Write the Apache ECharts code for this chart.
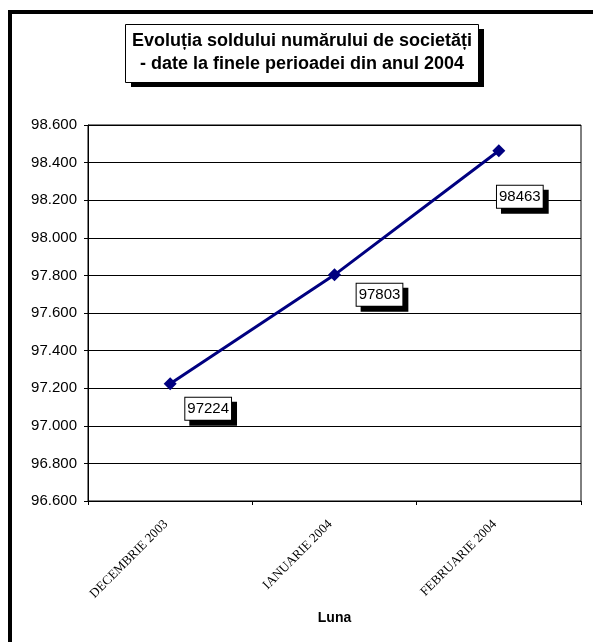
<!DOCTYPE html>
<html>
<head>
<meta charset="utf-8">
<script src="https://cdn.jsdelivr.net/npm/echarts@6/dist/echarts.min.js"></script>
<style>
html,body{margin:0;padding:0;background:#fff;}
#chart{width:593px;height:642px;}
</style>
</head>
<body>
<div id="chart"></div>
<script>
const titleLines = ['Evoluția soldului numărului de societăți', '- date la finele perioadei din anul 2004'];
const categories = ['DECEMBRIE 2003', 'IANUARIE 2004', 'FEBRUARIE 2004'];
const values = [97224, 97803, 98463];
const labelOffsets = [[38, 25], [45, 20], [21, 46]];
const axisName = 'Luna';
const yMin = 96600, yMax = 98600, yStep = 200;

const chart = echarts.init(document.getElementById('chart'), null, {renderer: 'canvas'});

function fmtThousands(v) {
  return String(v).replace(/\B(?=(\d{3})+(?!\d))/g, '.');
}

const option = {
  backgroundColor: '#ffffff',
  animation: false,
  graphic: [
    {
      type: 'rect', z: 0, silent: true,
      shape: {x: 10, y: 12, width: 700, height: 700},
      style: {fill: 'none', stroke: '#000', lineWidth: 4}
    },
    {
      type: 'rect', z: 1, silent: true,
      shape: {x: 131, y: 29, width: 353, height: 58},
      style: {fill: '#000'}
    },
    {
      type: 'rect', z: 2, silent: true,
      shape: {x: 125.5, y: 24.5, width: 353, height: 58},
      style: {fill: '#fff', stroke: '#000', lineWidth: 1}
    },
    {
      type: 'text', z: 3, silent: true,
      x: 302, y: 41,
      style: {text: titleLines[0], fill: '#000', font: 'bold 18px "Liberation Sans", Arial, sans-serif', align: 'center', verticalAlign: 'middle'}
    },
    {
      type: 'text', z: 3, silent: true,
      x: 302, y: 64,
      style: {text: titleLines[1], fill: '#000', font: 'bold 18px "Liberation Sans", Arial, sans-serif', align: 'center', verticalAlign: 'middle'}
    }
  ],
  grid: {
    left: 88, top: 125, right: 12, bottom: 141,
    show: true, borderColor: '#000', borderWidth: 1, backgroundColor: '#fff'
  },
  xAxis: {
    type: 'category',
    data: categories,
    boundaryGap: true,
    axisLine: {show: true, lineStyle: {color: '#000', width: 1}},
    axisTick: {show: true, length: 4, inside: false, lineStyle: {color: '#000'}},
    axisLabel: {
      rotate: 45, margin: 17, color: '#000',
      padding: [0, 6, 0, 0],
      fontFamily: '"Liberation Serif", "Times New Roman", serif', fontSize: 13
    },
    name: axisName,
    nameLocation: 'middle',
    nameGap: 110,
    nameTextStyle: {fontFamily: '"Liberation Sans", Arial, sans-serif', fontWeight: 'bold', fontSize: 14, color: '#000'}
  },
  yAxis: {
    type: 'value',
    min: yMin, max: yMax, interval: yStep,
    axisLine: {show: true, lineStyle: {color: '#000', width: 1}},
    axisTick: {show: true, length: 4, lineStyle: {color: '#000'}},
    splitLine: {show: true, lineStyle: {color: '#000', width: 1}},
    axisLabel: {
      color: '#000', margin: 11,
      fontFamily: '"Liberation Sans", Arial, sans-serif', fontSize: 15,
      formatter: fmtThousands
    }
  },
  series: [{
    type: 'line',
    data: values.map((v, i) => ({
      value: v,
      label: {offset: labelOffsets[i]}
    })),
    lineStyle: {color: '#000080', width: 3},
    itemStyle: {color: '#000080'},
    symbol: 'diamond',
    symbolSize: 13,
    z: 5,
    label: {
      show: true,
      position: 'inside',
      align: 'center', verticalAlign: 'middle',
      formatter: p => String(p.value),
      color: '#000',
      fontFamily: '"Liberation Sans", Arial, sans-serif', fontSize: 15,
      backgroundColor: '#fff',
      borderColor: '#000', borderWidth: 1,
      padding: [4, 2, 3, 2],
      shadowColor: '#000', shadowBlur: 0, shadowOffsetX: 5, shadowOffsetY: 5
    }
  }]
};
chart.setOption(option);
</script>
</body>
</html>
